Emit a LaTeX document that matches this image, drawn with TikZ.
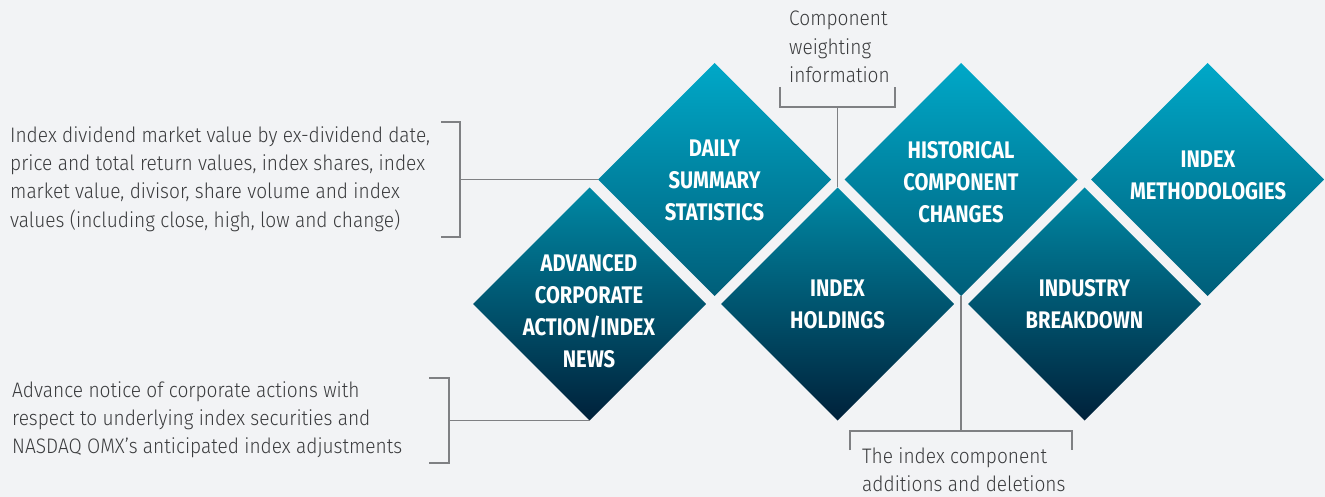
\documentclass[tikz,border=0pt]{standalone}
\usepackage{fontspec}
\IfFontExistsTF{Fira Sans Light}
  {\setmainfont{Fira Sans Light}[FakeStretch=0.91]}
  {\setmainfont{Fira Sans}[FakeStretch=0.90]}
\newfontfamily\boxfont{Fira Sans}[FakeStretch=0.84]
\usetikzlibrary{shapes.geometric}
\definecolor{bggray}{HTML}{F2F3F5}
\definecolor{capgray}{HTML}{3A3B3D}
\definecolor{linegray}{HTML}{7F8083}
\definecolor{cyantop}{HTML}{00A8C8}
\definecolor{cyanmid}{HTML}{00A0BF}
\definecolor{tealdark}{HTML}{005E79}
\definecolor{tealtop}{HTML}{0089A5}
\definecolor{tealmid}{HTML}{00536F}
\definecolor{navybot}{HTML}{00213A}
\tikzset{
  upbox/.style={diamond, minimum width=233pt, minimum height=233pt, inner sep=0pt, outer sep=0pt,
    top color=cyantop, middle color=cyanmid, bottom color=tealdark},
  lowbox/.style={diamond, minimum width=233pt, minimum height=233pt, inner sep=0pt, outer sep=0pt,
    top color=tealtop, middle color=tealmid, bottom color=navybot},
  boxtext/.style={text=white, align=center, inner sep=0pt, font=\boxfont\bfseries\fontsize{24}{32}\selectfont},
  captext/.style={text=capgray, align=left, anchor=north west, inner sep=0pt, font=\fontsize{21}{28.4}\selectfont},
  bracket/.style={draw=linegray, line width=1.4pt},
}
\begin{document}
\begin{tikzpicture}[x=1pt,y=-1pt]
\useasboundingbox[fill=bggray] (0,0) rectangle (1325,497);
% upper row
\node[upbox] (daily) at (714.5,179.5){};
\node[upbox] (hist) at (961,179.5){};
\node[upbox] (meth) at (1207.5,179.5){};
% lower row
\node[lowbox] (adv) at (589.5,304){};
\node[lowbox] (hold) at (837.5,304){};
\node[lowbox] (indus) at (1084.5,304){};

\node[boxtext] (dailytxt) at (714.5,180.5){DAILY\\SUMMARY\\STATISTICS};
\node[boxtext] (histtxt) at (961,182){HISTORICAL\\COMPONENT\\CHANGES};
\node[boxtext] (methtxt) at (1208,175){INDEX\\METHODOLOGIES};
\node[boxtext] (advtxt) at (589,311){ADVANCED\\CORPORATE\\ACTION/INDEX\\NEWS};
\node[boxtext] (holdtxt) at (hold.center){INDEX\\HOLDINGS};
\node[boxtext] (industxt) at (indus.center){INDUSTRY\\BREAKDOWN};

% captions
\node[captext] (capdaily) at (10,126){Index dividend market value by ex-dividend date,\\price and total return values, index shares, index\\market value, divisor, share volume and index\\values (including close, high, low and change)};
\node[captext] (capadv) at (12,381){Advance notice of corporate actions with\\respect to underlying index securities and\\NASDAQ OMX's anticipated index adjustments};
\node[captext] (caphold) at (789,11){Component\\weighting\\information};
\node[captext] (caphist) at (862,447){The index component\\additions and deletions};

% brackets
\draw[bracket] (441,122) -- (460,122) -- (460,237) -- (441,237);
\coordinate (brdaily) at (460,179.5);
\draw[bracket] (brdaily) -- (daily.west);
\draw[bracket] (429,378) -- (449,378) -- (449,463) -- (429,463);
\coordinate (bradv) at (449,420.5);
\draw[bracket] (bradv) -- (adv.south);
\draw[bracket] (780,87) -- (780,107) -- (895,107) -- (895,87);
\coordinate (brhold) at (837.5,107);
\draw[bracket] (brhold) -- (hold.north);
\draw[bracket] (850,450) -- (850,431) -- (1072,431) -- (1072,450);
\coordinate (brhist) at (961,431);
\draw[bracket] (hist.south) -- (brhist);

\end{tikzpicture}
\end{document}
